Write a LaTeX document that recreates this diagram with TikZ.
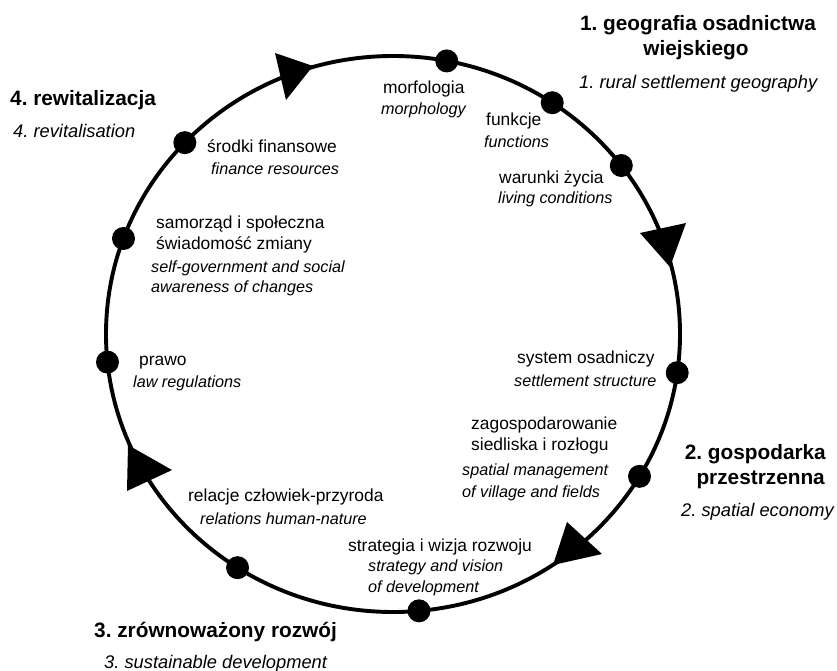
\documentclass[tikz,border=0pt]{standalone}
\usepackage{fontspec}
\setmainfont{Liberation Sans}
\usetikzlibrary{calc}
\frenchspacing
\tikzset{
  reg/.style={font=\fontsize{17.4}{20}\selectfont, inner sep=0pt, anchor=base west},
  ita/.style={font=\fontsize{16.2}{20}\selectfont\itshape, inner sep=0pt, anchor=base west},
  ttl/.style={font=\fontsize{20.8}{25}\selectfont\bfseries, inner sep=0pt, anchor=base west},
  subt/.style={font=\fontsize{18.3}{22}\selectfont\itshape, inner sep=0pt, anchor=base west},
  bdot/.style={circle, fill=black, minimum size=23pt, inner sep=0pt},
  ring/.style={line width=3.9pt},
  tri/.style={fill=black}
}
\begin{document}
\frenchspacing
\begin{tikzpicture}[x=1pt,y=-1pt]
\useasboundingbox (0,0) rectangle (837,671);
\coordinate (c) at (393,334);
\draw[ring] (c) ellipse [x radius=287pt, y radius=278pt];
% dots
\node[bdot] (dmorf) at ($(c)+(-79.2:287 and 278)$) {};
\node[bdot] (dfunk) at ($(c)+(-56.3:287 and 278)$) {};
\node[bdot] (dwar)  at ($(c)+(-37.3:287 and 278)$) {};
\node[bdot] (dsys)  at ($(c)+(8.0:287 and 278)$) {};
\node[bdot] (dzag)  at ($(c)+(30.8:287 and 278)$) {};
\node[bdot] (dstr)  at ($(c)+(84.8:287 and 278)$) {};
\node[bdot] (drel)  at ($(c)+(122.8:287 and 278)$) {};
\node[bdot] (dpra)  at ($(c)+(174.2:287 and 278)$) {};
\node[bdot] (dsam)  at ($(c)+(200.1:287 and 278)$) {};
\node[bdot] (dsro)  at ($(c)+(223.5:287 and 278)$) {};
% arrowheads
\fill[tri] (275,53) -- (313,66) -- (286,100) -- cycle;
\fill[tri] (640,233) -- (686,223) -- (670,267) -- cycle;
\fill[tri] (602,554) -- (553,565) -- (567,522) -- cycle;
\fill[tri] (128,445) -- (172,470) -- (127,491) -- cycle;
% titles
\node[ttl] (t4) at (10,106) {4. rewitalizacja};
\node[subt] (s4) at (13,138) {4. revitalisation};
\node[ttl, anchor=base] (t1a) at (698,31) {1. geografia osadnictwa};
\node[ttl, anchor=base] (t1b) at (696,56) {wiejskiego};
\node[subt] (s1) at (579,89) {1. rural settlement geography};
\node[ttl, anchor=base east] (t2a) at (826,459) {2. gospodarka};
\node[ttl, anchor=base east] (t2b) at (825,484) {przestrzenna};
\node[subt] (s2) at (681,516) {2. spatial economy};
\node[ttl] (t3) at (94,637) {3. zrównoważony rozwój};
\node[subt] (s3) at (104,668) {3. sustainable development};
% item labels
\node[reg] (lmorf) at (383,94) {morfologia};
\node[ita] (emorf) at (381,115) {morphology};
\node[reg] (lfunk) at (486,126) {funkcje};
\node[ita] (efunk) at (484,148) {functions};
\node[reg] (lwar) at (499,183) {warunki życia};
\node[ita] (ewar) at (498,204) {living conditions};
\node[reg] (lsys) at (517,363) {system osadniczy};
\node[ita] (esys) at (514,386) {settlement structure};
\node[reg] (lzag1) at (471,429) {zagospodarowanie};
\node[reg] (lzag2) at (471,450) {siedliska i rozłogu};
\node[ita] (ezag1) at (462,475) {spatial management};
\node[ita] (ezag2) at (462,497) {of village and fields};
\node[reg] (lstr) at (348,551) {strategia i wizja rozwoju};
\node[ita] (estr1) at (368,571) {strategy and vision};
\node[ita] (estr2) at (368,592) {of development};
\node[reg] (lrel) at (188,501) {relacje człowiek-przyroda};
\node[ita] (erel) at (200,524) {relations human-nature};
\node[reg] (lpra) at (139,365) {prawo};
\node[ita] (epra) at (133,387) {law regulations};
\node[reg] (lsam1) at (156,228) {samorząd i społeczna};
\node[reg] (lsam2) at (156,249) {świadomość zmiany};
\node[ita] (esam1) at (151,272) {self-government and social};
\node[ita] (esam2) at (151,292) {awareness of changes};
\node[reg] (lsro) at (207,153) {środki finansowe};
\node[ita] (esro) at (211,175) {finance resources};
\end{tikzpicture}
\end{document}
